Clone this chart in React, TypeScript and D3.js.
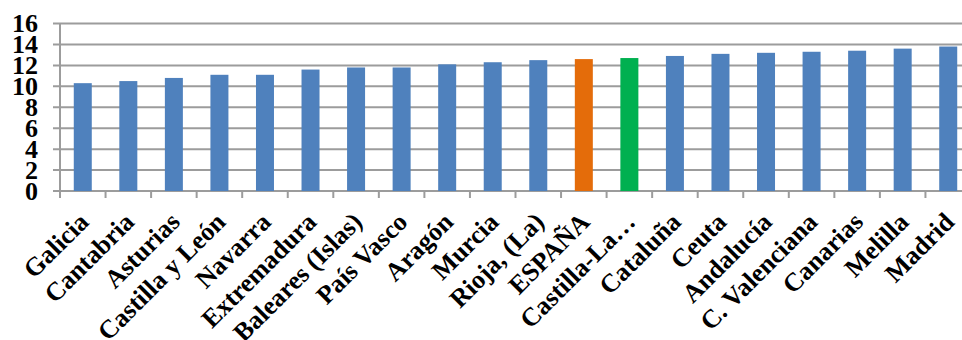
import React, { useEffect, useRef } from "react";
import * as d3 from "d3";

// Regions sorted by value, national total and highlighted region included
const regions = [
  "Galicia", "Cantabria", "Asturias", "Castilla y León", "Navarra",
  "Extremadura", "Baleares (Islas)", "País Vasco", "Aragón", "Murcia",
  "Rioja, (La)", "ESPAÑA", "Castilla-La…", "Cataluña", "Ceuta",
  "Andalucía", "C. Valenciana", "Canarias", "Melilla", "Madrid",
];
const values = [
  10.3, 10.5, 10.8, 11.1, 11.1,
  11.6, 11.8, 11.8, 12.1, 12.3,
  12.5, 12.6, 12.7, 12.9, 13.1,
  13.2, 13.3, 13.4, 13.6, 13.8,
];
const yTicks = [0, 2, 4, 6, 8, 10, 12, 14, 16];

const colorFor = (name: string) =>
  name === "ESPAÑA" ? "#E46C0A" : name === "Castilla-La…" ? "#00B050" : "#4F81BD";

export default function App() {
  const ref = useRef<SVGSVGElement>(null);

  useEffect(() => {
    const svg = d3.select(ref.current);
    svg.selectAll("*").remove();

    const W = 962;
    const left = 60, right = 971, top = 23.5, bottom = 191;

    const x = d3.scaleBand<string>().domain(regions).range([left, right]).paddingInner(0).paddingOuter(0);
    const y = d3.scaleLinear().domain([0, 16]).range([bottom, top]);
    const barW = 18;
    const font = "'Liberation Serif', 'Times New Roman', serif";

    // horizontal gridlines with short outside ticks
    svg.append("g").selectAll("line").data(yTicks).join("line")
      .attr("x1", left - 7).attr("x2", W)
      .attr("y1", (d) => y(d)).attr("y2", (d) => y(d))
      .attr("stroke", "#9C9C9C").attr("stroke-width", 2);

    // value axis line
    svg.append("line")
      .attr("x1", left).attr("x2", left).attr("y1", top).attr("y2", bottom + 2)
      .attr("stroke", "#9C9C9C").attr("stroke-width", 2);

    // category tick marks
    const catTicks = regions.map((r) => x(r)!).concat([right]);
    svg.append("g").selectAll("line").data(catTicks).join("line")
      .attr("x1", (d) => d).attr("x2", (d) => d)
      .attr("y1", bottom).attr("y2", bottom + 7)
      .attr("stroke", "#9C9C9C").attr("stroke-width", 2);

    // bars
    svg.append("g").selectAll("rect").data(regions).join("rect")
      .attr("x", (d) => x(d)! + x.bandwidth() / 2 - barW / 2)
      .attr("width", barW)
      .attr("y", (_d, i) => y(values[i]))
      .attr("height", (_d, i) => y(0) - y(values[i]))
      .attr("fill", (d) => colorFor(d));

    // y labels
    svg.append("g").selectAll("text").data(yTicks).join("text")
      .attr("x", 38).attr("y", (d) => y(d))
      .attr("dy", "0.34em")
      .attr("text-anchor", "end")
      .attr("font-family", font).attr("font-weight", "bold").attr("font-size", 26)
      .attr("fill", "#000")
      .text((d) => String(d));

    // rotated category labels
    svg.append("g").selectAll("text").data(regions).join("text")
      .attr("transform", (d) => `translate(${x(d)! + x.bandwidth() / 2 + 1},${bottom + 26}) rotate(-45)`)
      .attr("text-anchor", "end")
      .attr("dy", "0.35em")
      .attr("font-family", font).attr("font-weight", "bold").attr("font-size", 26)
      .attr("fill", "#000")
      .text((d) => d);
  }, []);

  return (
    <svg ref={ref} width={962} height={340}
      style={{ position: "absolute", left: 0, top: 0, background: "#fff" }} />
  );
}
